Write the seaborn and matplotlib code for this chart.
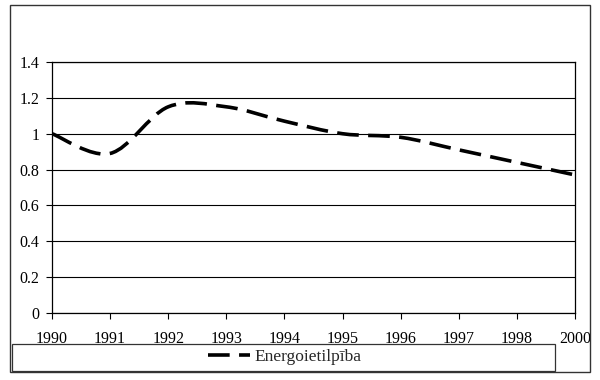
import numpy as np
import matplotlib
matplotlib.use("Agg")
import matplotlib.pyplot as plt
import seaborn as sns
from matplotlib.path import Path
from matplotlib.patches import PathPatch, Rectangle

# --- dados ---
years = ["1990", "1991", "1992", "1993", "1994", "1995", "1996", "1997", "1998", "2000"]
energoietilpiba = [1.00, 0.89, 1.15, 1.15, 1.07, 1.00, 0.98, 0.91, 0.84, 0.77]
series_label = "Energoietilpība"
y_ticks = [0, 0.2, 0.4, 0.6, 0.8, 1, 1.2, 1.4]
y_tick_labels = ["0", "0.2", "0.4", "0.6", "0.8", "1", "1.2", "1.4"]

sns.set_style("white")
plt.rcParams["font.family"] = ["Liberation Serif", "DejaVu Serif"]

fig = plt.figure(figsize=(6, 3.8), dpi=100)
ax = fig.add_axes([52 / 600, 1 - 313 / 380, 523 / 600, 251 / 380])

pos = np.arange(len(years))
vals = np.array(energoietilpiba)

# linha do seaborn (usada para a legenda), a curva suavizada vem depois
sns.lineplot(x=pos, y=vals, ax=ax, color="black", linewidth=2.6,
             dashes=False, linestyle=(0, (6, 2.6)), label=series_label)
line = ax.lines[0]
ax.get_legend().remove()

# curva suavizada estilo Excel (Bezier a partir dos pontos)
pts = np.column_stack([pos, vals])
ext = np.vstack([pts[0], pts, pts[-1]])
verts = [tuple(pts[0])]
codes = [Path.MOVETO]
for i in range(len(pts) - 1):
    p0, p1, p2, p3 = ext[i], ext[i + 1], ext[i + 2], ext[i + 3]
    c1 = p1 + (p2 - p0) / 6
    c2 = p2 - (p3 - p1) / 6
    verts += [tuple(c1), tuple(c2), tuple(p2)]
    codes += [Path.CURVE4] * 3
patch = PathPatch(Path(verts, codes), facecolor="none", edgecolor="black",
                  linewidth=2.6, linestyle=(0, (6, 2.6)), capstyle="butt")
ax.add_patch(patch)

ax.set_xlim(0, len(years) - 1)
ax.set_ylim(0, 1.4)
ax.set_xticks(pos)
ax.set_xticklabels(years)
ax.set_yticks(y_ticks)
ax.set_yticklabels(y_tick_labels)
ax.tick_params(axis="both", labelsize=11.5, colors="black", direction="out",
               length=4, width=0.8, bottom=True, left=True)
ax.tick_params(axis="x", pad=9)
ax.tick_params(axis="y", pad=5)
ax.grid(axis="y", color="black", linewidth=0.8)
ax.grid(axis="x", visible=False)
for s in ax.spines.values():
    s.set_visible(True)
    s.set_color("black")
    s.set_linewidth(0.9)
ax.set_xlabel("")
ax.set_ylabel("")

# moldura externa e caixa da legenda
fig.patches.append(Rectangle((10 / 600, 1 - 372 / 380), 580 / 600, 367 / 380,
                             transform=fig.transFigure, fill=False,
                             edgecolor="#333333", linewidth=1.0))
fig.patches.append(Rectangle((12 / 600, 1 - 371 / 380), 543 / 600, 27 / 380,
                             transform=fig.transFigure, fill=False,
                             edgecolor="#333333", linewidth=0.9))

fig.legend([line], [series_label], loc="center", frameon=False,
           bbox_to_anchor=(285 / 600, 1 - 357 / 380), fontsize=12.5,
           handlelength=2.4, handletextpad=0.3)
line.set_visible(False)

fig.savefig("out.png", dpi=100, facecolor="white")
